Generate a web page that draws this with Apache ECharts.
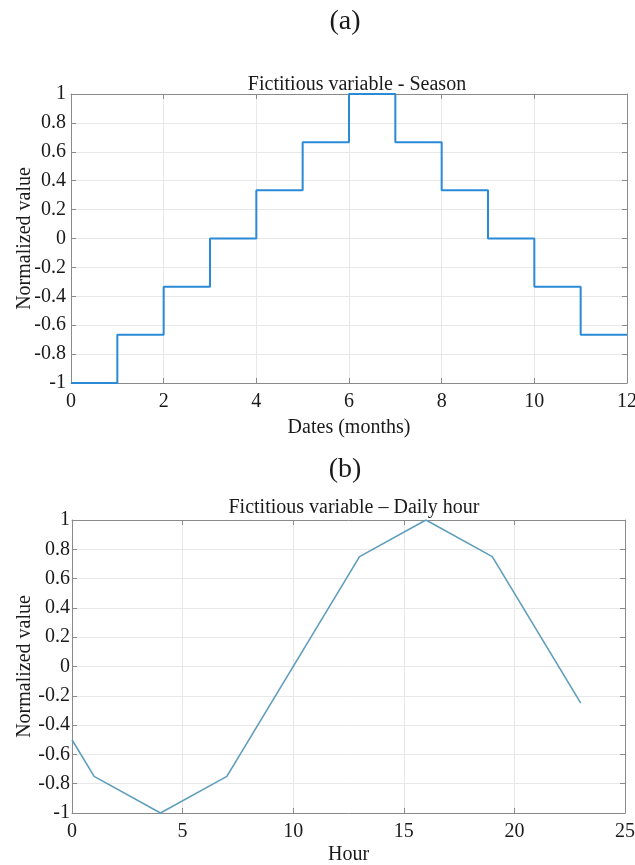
<!DOCTYPE html>
<html><head><meta charset="utf-8">
<script src="https://cdn.jsdelivr.net/npm/echarts@6/dist/echarts.min.js"></script>
<style>html,body{margin:0;padding:0;background:#fff}#c{width:635px;height:865px}</style>
</head><body><div id="c"></div>
<script>
const seasonMonths = [0,1,2,3,4,5,6,7,8,9,10,11,12];
const seasonValues = [-1,-0.6667,-0.3333,0,0.3333,0.6667,1,0.6667,0.3333,0,-0.3333,-0.6667,-0.6667];
const hourX = [0,1,4,7,13,16,19,23];
const hourValues = [-0.5,-0.75,-1,-0.75,0.75,1,0.75,-0.25];
const yTicks = [-1,-0.8,-0.6,-0.4,-0.2,0,0.2,0.4,0.6,0.8,1];

const font = 'Liberation Serif';
const txt = '#1a1a1a';
const fs = 20;
const chart = echarts.init(document.getElementById('c'), null, {renderer:'canvas'});

function xAxis(gi, max, interval, name, pos, gap){
  const main = pos === 'bottom';
  return {
    type:'value', gridIndex:gi, min:0, max:max, interval:interval, position:pos,
    name: main ? name : '', nameLocation:'middle', nameGap:gap, nameMoveOverlap:false,
    nameTextStyle:{fontFamily:font, fontSize:fs, color:txt},
    axisLine:{show:true, onZero:false, lineStyle:{color:'#8a8a8a', width:1}},
    axisTick:{show:true, inside:true, length:5, lineStyle:{color:'#8a8a8a'}},
    axisLabel:{show:main, fontFamily:font, fontSize:fs, color:txt, margin:main?9:0},
    splitLine:{show:main, lineStyle:{color:'#e8e8e8', width:1}}
  };
}
function yAxis(gi, pos, margin, gap){
  const main = pos === 'left';
  return {
    type:'value', gridIndex:gi, min:-1, max:1, interval:0.2, position:pos,
    name: main ? 'Normalized value' : '', nameLocation:'middle', nameGap:gap, nameRotate:90,
    nameMoveOverlap:false,
    nameTextStyle:{fontFamily:font, fontSize:fs, color:txt},
    axisLine:{show:true, onZero:false, lineStyle:{color:'#8a8a8a', width:1}},
    axisTick:{show:true, inside:true, length:5, lineStyle:{color:'#8a8a8a'}},
    axisLabel:{show:main, fontFamily:font, fontSize:fs, color:txt, margin:margin,
      formatter: v => { const r = Math.round(v*10)/10; return yTicks.indexOf(r) >= 0 ? String(r) : ''; }},
    splitLine:{show:main, lineStyle:{color:'#e8e8e8', width:1}}
  };
}

chart.setOption({
  animation:false,
  backgroundColor:'#fff',
  title:[
    {text:'(a)', left:340, textAlign:'center', top:3, textStyle:{fontFamily:font, fontSize:28, fontWeight:'normal', color:txt}},
    {text:'Fictitious variable - Season', left:352, textAlign:'center', top:70, textStyle:{fontFamily:font, fontSize:fs, fontWeight:'normal', color:txt}},
    {text:'(b)', left:340, textAlign:'center', top:451, textStyle:{fontFamily:font, fontSize:28, fontWeight:'normal', color:txt}},
    {text:'Fictitious variable \u2013 Daily hour', left:349, textAlign:'center', top:493, textStyle:{fontFamily:font, fontSize:fs, fontWeight:'normal', color:txt}}
  ],
  grid:[
    {left:71, right:8, top:94, height:289, show:false, containLabel:false, outerBoundsMode:'none'},
    {left:72, right:10, top:520, height:293, show:false, containLabel:false, outerBoundsMode:'none'}
  ],
  xAxis:[
    xAxis(0, 12, 2, 'Dates (months)', 'bottom', 35),
    xAxis(0, 12, 2, '', 'top', 0),
    xAxis(1, 25, 5, 'Hour', 'bottom', 32),
    xAxis(1, 25, 5, '', 'top', 0)
  ],
  yAxis:[
    yAxis(0, 'left', 5, 36),
    yAxis(0, 'right', 0, 0),
    yAxis(1, 'left', 2, 37),
    yAxis(1, 'right', 0, 0)
  ],
  series:[
    {type:'line', xAxisIndex:0, yAxisIndex:0, step:'end', showSymbol:false,
     data: seasonMonths.map((m,i)=>[m, seasonValues[i]]),
     lineStyle:{color:'#2a8ad6', width:2}, itemStyle:{color:'#2a8ad6'}},
    {type:'line', xAxisIndex:2, yAxisIndex:2, showSymbol:false,
     data: hourX.map((h,i)=>[h, hourValues[i]]),
     lineStyle:{color:'#5f9ebd', width:1.6}, itemStyle:{color:'#5f9ebd'}}
  ]
});
</script></body></html>
